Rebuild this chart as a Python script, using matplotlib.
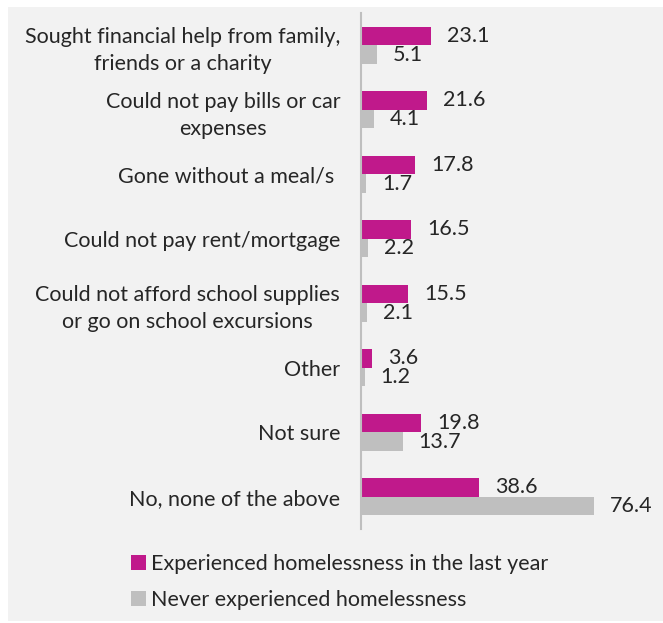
import matplotlib
matplotlib.use("Agg")
import matplotlib.pyplot as plt
from matplotlib.patches import Rectangle, Patch

categories = [
    "Sought financial help from family,\nfriends or a charity",
    "Could not pay bills or car\nexpenses",
    "Gone without a meal/s ",
    "Could not pay rent/mortgage",
    "Could not afford school supplies\nor go on school excursions",
    "Other",
    "Not sure",
    "No, none of the above",
]
experienced = [23.1, 21.6, 17.8, 16.5, 15.5, 3.6, 19.8, 38.6]
never = [5.1, 4.1, 1.7, 2.2, 2.1, 1.2, 13.7, 76.4]
series_names = ["Experienced homelessness in the last year",
                "Never experienced homelessness"]

MAGENTA = "#C0198B"
GREY = "#BFBFBF"
TEXT = "#262626"
FONT = ["Lato", "DejaVu Sans"]
FS = 15.5

W, H = 663, 623
fig = plt.figure(figsize=(W / 100, H / 100), dpi=100)
fig.patch.set_facecolor("white")

# panel background
fig.patches.append(Rectangle((8 / W, 1 - 621 / H), 1 - 8 / W, (621 - 7) / H,
                             transform=fig.transFigure, facecolor="#F2F2F2",
                             edgecolor="none", zorder=-10))

left_px, right_px = 361, 650
top_px, bottom_px = 13, 529
ax = fig.add_axes([left_px / W, 1 - bottom_px / H,
                   (right_px - left_px) / W, (bottom_px - top_px) / H])
ax.patch.set_alpha(0)
px_per_unit = 3.05
ax.set_xlim(0, (right_px - left_px) / px_per_unit)
ax.set_ylim(len(categories) - 0.5, -0.5)

h = 0.29
ys = list(range(len(categories)))
ax.barh([y - h / 2 for y in ys], experienced, height=h, color=MAGENTA)
ax.barh([y + h / 2 for y in ys], never, height=h, color=GREY)

for y, v in zip(ys, experienced):
    ax.annotate(f"{v:.1f}", (v, y - h / 2), xytext=(16, 0),
                textcoords="offset pixels", va="center", ha="left",
                fontsize=FS, color=TEXT, family=FONT)
for y, v in zip(ys, never):
    ax.annotate(f"{v:.1f}", (v, y + h / 2), xytext=(16, 0),
                textcoords="offset pixels", va="center", ha="left",
                fontsize=FS, color=TEXT, family=FONT)

ax.set_yticks(ys)
ax.set_yticklabels(categories, fontsize=FS, color=TEXT, family=FONT,
                   multialignment="center", linespacing=1.45)
ax.tick_params(axis="y", length=0, pad=15)
ax.set_xticks([])
for s in ["top", "right", "bottom"]:
    ax.spines[s].set_visible(False)
ax.spines["left"].set_color("#BFBFBF")
ax.spines["left"].set_linewidth(1.5)

handles = [Patch(facecolor=MAGENTA, edgecolor="none"),
           Patch(facecolor=GREY, edgecolor="none")]
fig.legend(handles, series_names, loc="upper left",
           bbox_to_anchor=(112 / W, 1 - 535 / H), frameon=False,
           handlelength=0.7, handleheight=0.7, handletextpad=0.2,
           labelspacing=0.72,
           prop={"family": FONT, "size": FS}, labelcolor=TEXT)

fig.savefig("out.png", dpi=100, facecolor=fig.get_facecolor())
